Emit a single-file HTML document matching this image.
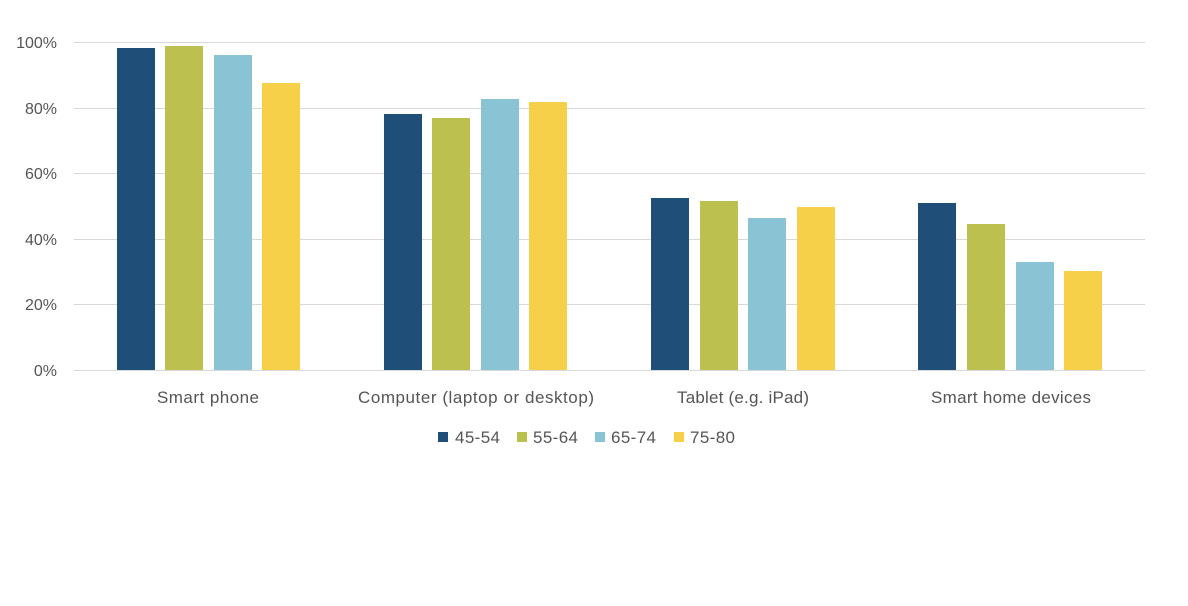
<!DOCTYPE html>
<html><head><style>body{margin:0;background:#fff}svg{display:block}</style></head><body>
<svg width="1188" height="606" xmlns="http://www.w3.org/2000/svg" font-family="Liberation Sans, sans-serif" fill="#555">
<g stroke="#d9d9d9" stroke-width="1">
<line x1="74" x2="1145" y1="42.5" y2="42.5"/><line x1="74" x2="1145" y1="108.5" y2="108.5"/><line x1="74" x2="1145" y1="173.5" y2="173.5"/><line x1="74" x2="1145" y1="239.5" y2="239.5"/><line x1="74" x2="1145" y1="304.5" y2="304.5"/><line x1="74" x2="1145" y1="370.5" y2="370.5"/>
</g>
<g font-size="16" text-anchor="end">
<text x="57" y="48">100%</text><text x="57" y="114">80%</text><text x="57" y="179">60%</text><text x="57" y="245">40%</text><text x="57" y="310">20%</text><text x="57" y="376">0%</text>
</g>
<g>
<rect x="117" y="48" width="38" height="322" fill="#1f4e79"/><rect x="165" y="46" width="38" height="324" fill="#bcc04e"/><rect x="214" y="55" width="38" height="315" fill="#8ac3d4"/><rect x="262" y="83" width="38" height="287" fill="#f5d048"/>
<rect x="384" y="114" width="38" height="256" fill="#1f4e79"/><rect x="432" y="118" width="38" height="252" fill="#bcc04e"/><rect x="481" y="99" width="38" height="271" fill="#8ac3d4"/><rect x="529" y="102" width="38" height="268" fill="#f5d048"/>
<rect x="651" y="198" width="38" height="172" fill="#1f4e79"/><rect x="700" y="201" width="38" height="169" fill="#bcc04e"/><rect x="748" y="218" width="38" height="152" fill="#8ac3d4"/><rect x="797" y="207" width="38" height="163" fill="#f5d048"/>
<rect x="918" y="203" width="38" height="167" fill="#1f4e79"/><rect x="967" y="224" width="38" height="146" fill="#bcc04e"/><rect x="1016" y="262" width="38" height="108" fill="#8ac3d4"/><rect x="1064" y="271" width="38" height="99" fill="#f5d048"/>
</g>
<g font-size="17" text-anchor="middle">
<text x="208" y="403" textLength="102">Smart phone</text><text x="476" y="403" textLength="236">Computer (laptop or desktop)</text><text x="743" y="403" textLength="132">Tablet (e.g. iPad)</text><text x="1011" y="403" textLength="160">Smart home devices</text>
</g>
<g font-size="17">
<rect x="438" y="432" width="10" height="10" fill="#1f4e79"/><text x="455" y="443" textLength="45">45-54</text>
<rect x="517" y="432" width="10" height="10" fill="#bcc04e"/><text x="533" y="443" textLength="45">55-64</text>
<rect x="595" y="432" width="10" height="10" fill="#8ac3d4"/><text x="611" y="443" textLength="45">65-74</text>
<rect x="674" y="432" width="10" height="10" fill="#f5d048"/><text x="690" y="443" textLength="45">75-80</text>
</g>
</svg>
</body></html>
